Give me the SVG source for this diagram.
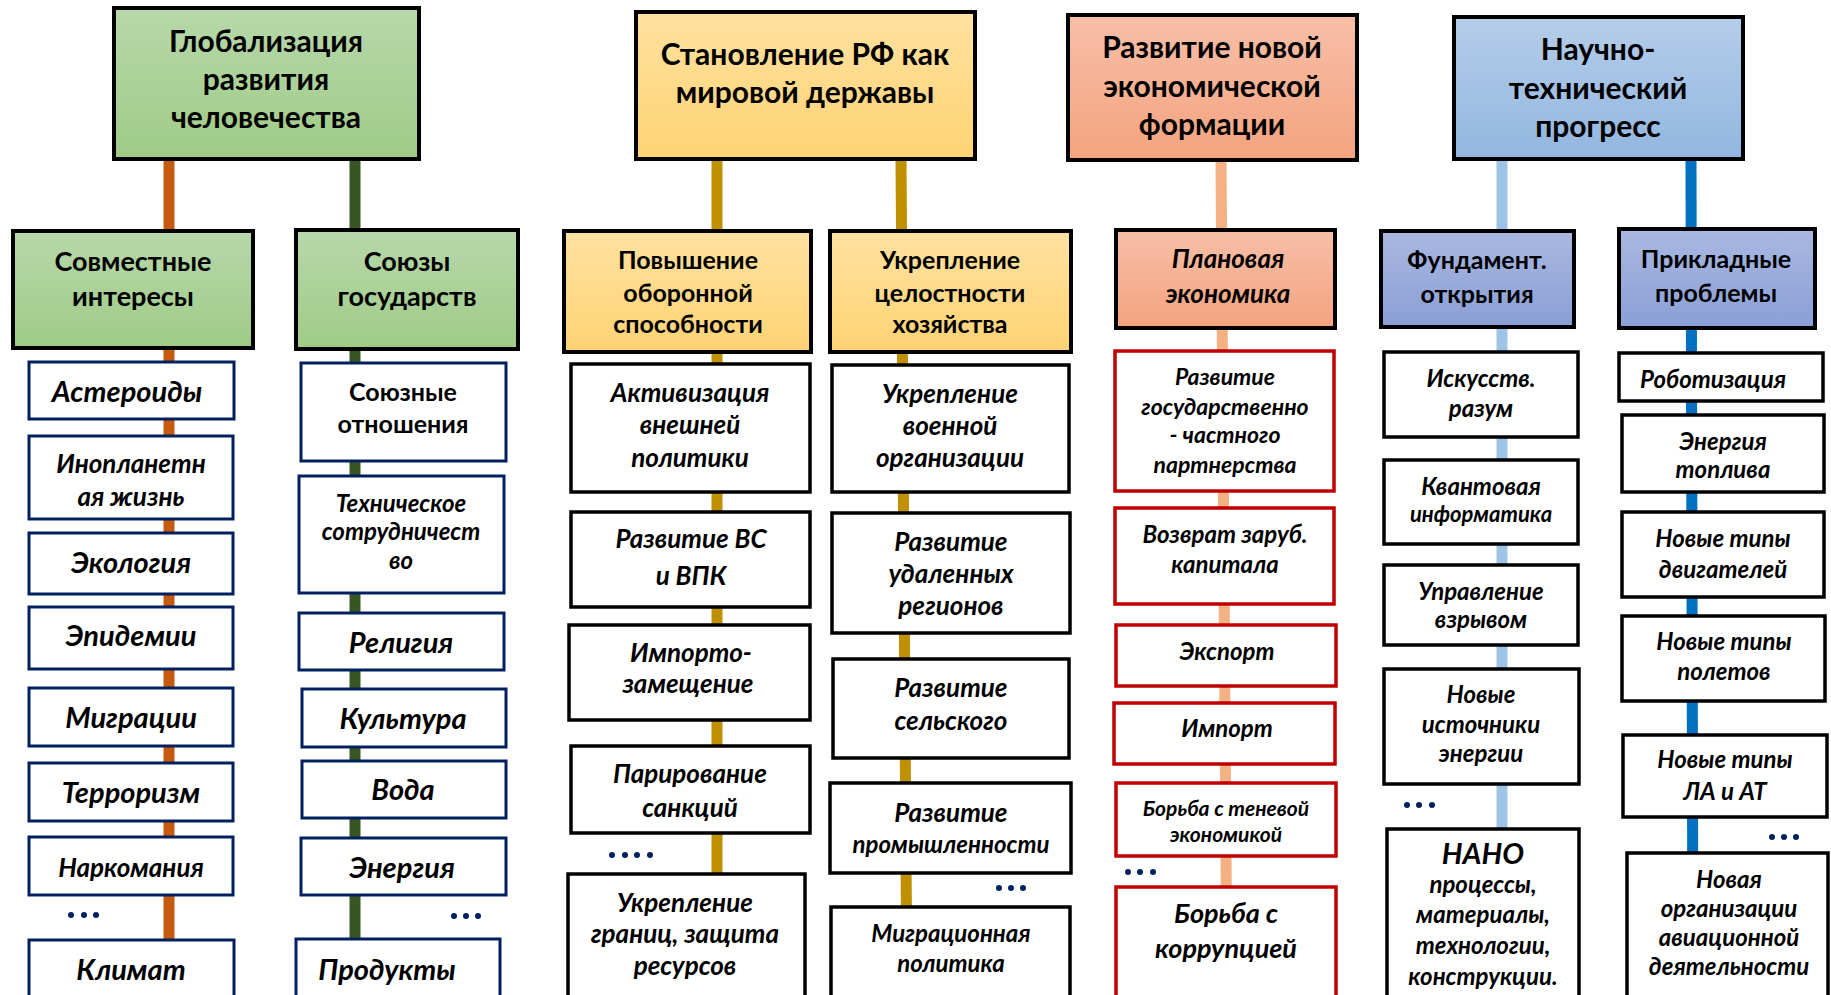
<svg xmlns="http://www.w3.org/2000/svg" width="1831" height="995" viewBox="0 0 1831 995">
<defs>
<linearGradient id="gGreen" x1="0" y1="0" x2="0" y2="1"><stop offset="0" stop-color="#B7D8AB"/><stop offset="1" stop-color="#9FCB86"/></linearGradient>
<linearGradient id="gYellow" x1="0" y1="0" x2="0" y2="1"><stop offset="0" stop-color="#FFE1A0"/><stop offset="1" stop-color="#FFD374"/></linearGradient>
<linearGradient id="gSalmon" x1="0" y1="0" x2="0" y2="1"><stop offset="0" stop-color="#F7BFA8"/><stop offset="1" stop-color="#F4A37E"/></linearGradient>
<linearGradient id="gBlue" x1="0" y1="0" x2="0" y2="1"><stop offset="0" stop-color="#B5CDE9"/><stop offset="1" stop-color="#92B6E0"/></linearGradient>
<linearGradient id="gPurple" x1="0" y1="0" x2="0" y2="1"><stop offset="0" stop-color="#AAB8E1"/><stop offset="1" stop-color="#8A9FD6"/></linearGradient>
</defs>
<style>
text{font-family:Lato,"Open Sans","Liberation Sans",sans-serif;font-weight:bold;text-anchor:middle;fill:#000}
.top{font-size:30px}
.hdL{font-size:27px}
.hd{font-size:25px}
.it{font-size:29px;font-style:italic}
.itm{font-size:26px;font-style:italic}
.its{font-size:24px;font-style:italic}
.bk{stroke:#000;stroke-width:4}
.nv{fill:#fff;stroke:#002060;stroke-width:3}
.wb{fill:#fff;stroke:#000;stroke-width:3.5}
.rd{fill:#fff;stroke:#C00000;stroke-width:3.5}
.dot{fill:#002060}
.cn{stroke-width:11;fill:none}
</style>
<rect width="1831" height="995" fill="#fff"/>
<g id="connectors">
<line class="cn" x1="169" y1="160" x2="169" y2="995" stroke="#C55A11"/>
<line class="cn" x1="355" y1="160" x2="355" y2="995" stroke="#375623"/>
<line class="cn" x1="717" y1="159" x2="717" y2="995" stroke="#BF9000"/>
<line class="cn" x1="901" y1="159" x2="907" y2="995" stroke="#BF9000"/>
<line class="cn" x1="1221" y1="160" x2="1227" y2="995" stroke="#F4B183"/>
<line class="cn" x1="1502" y1="159" x2="1502" y2="995" stroke="#9DC3E6"/>
<line class="cn" x1="1691" y1="159" x2="1693" y2="995" stroke="#0070C0"/>
</g>
<g id="dots">
<circle class="dot" cx="71" cy="915" r="3"/><circle class="dot" cx="84" cy="915" r="3"/><circle class="dot" cx="96" cy="915" r="3"/>
<circle class="dot" cx="454" cy="916" r="3"/><circle class="dot" cx="466" cy="916" r="3"/><circle class="dot" cx="478" cy="916" r="3"/>
<circle class="dot" cx="612" cy="855" r="3"/><circle class="dot" cx="625" cy="855" r="3"/><circle class="dot" cx="637" cy="855" r="3"/><circle class="dot" cx="650" cy="855" r="3"/>
<circle class="dot" cx="999" cy="888" r="3"/><circle class="dot" cx="1011" cy="888" r="3"/><circle class="dot" cx="1023" cy="888" r="3"/>
<circle class="dot" cx="1128" cy="872" r="3"/><circle class="dot" cx="1140" cy="872" r="3"/><circle class="dot" cx="1153" cy="872" r="3"/>
<circle class="dot" cx="1407" cy="805" r="3"/><circle class="dot" cx="1419" cy="805" r="3"/><circle class="dot" cx="1432" cy="805" r="3"/>
<circle class="dot" cx="1772" cy="837" r="3"/><circle class="dot" cx="1784" cy="837" r="3"/><circle class="dot" cx="1796" cy="837" r="3"/>
</g>
<!-- Column 1/2: Globalization -->
<g id="n-glob"><rect class="bk" x="114" y="8" width="305" height="151" fill="url(#gGreen)"/><text class="top" x="266" y="52">Глобализация</text><text class="top" x="266" y="90">развития</text><text class="top" x="266" y="128">человечества</text></g>
<g id="n-sovm"><rect class="bk" x="13" y="231" width="240" height="117" fill="url(#gGreen)"/><text class="hdL" x="133" y="271">Совместные</text><text class="hdL" x="133" y="306">интересы</text></g>
<g id="n-soyuz"><rect class="bk" x="296" y="230" width="222" height="119" fill="url(#gGreen)"/><text class="hdL" x="407" y="271">Союзы</text><text class="hdL" x="407" y="306">государств</text></g>
<g id="n-aster"><rect class="nv" x="29" y="362" width="205" height="57"/><text class="it" x="127" y="402">Астероиды</text></g>
<g id="n-inopl"><rect class="nv" x="29" y="436" width="204" height="83"/><text class="itm" x="131" y="473">Инопланетн</text><text class="itm" x="131" y="506">ая жизнь</text></g>
<g id="n-ekol"><rect class="nv" x="29" y="533" width="204" height="61"/><text class="it" x="131" y="573">Экология</text></g>
<g id="n-epid"><rect class="nv" x="29" y="607" width="204" height="62"/><text class="it" x="131" y="646">Эпидемии</text></g>
<g id="n-migr"><rect class="nv" x="29" y="688" width="204" height="58"/><text class="it" x="131" y="728">Миграции</text></g>
<g id="n-terr"><rect class="nv" x="29" y="763" width="204" height="58"/><text class="it" x="131" y="803">Терроризм</text></g>
<g id="n-nark"><rect class="nv" x="29" y="837" width="204" height="58"/><text class="itm" x="131" y="877">Наркомания</text></g>
<g id="n-klim"><rect class="nv" x="29" y="940" width="205" height="70"/><text class="it" x="131" y="980">Климат</text></g>
<g id="n-soyuzn"><rect class="nv" x="301" y="363" width="205" height="98"/><text class="hd" x="403" y="401">Союзные</text><text class="hd" x="403" y="433">отношения</text></g>
<g id="n-tech"><rect class="nv" x="299" y="476" width="205" height="117"/><text class="its" x="401" y="512">Техническое</text><text class="its" x="401" y="540">сотрудничест</text><text class="its" x="401" y="569">во</text></g>
<g id="n-relig"><rect class="nv" x="299" y="613" width="205" height="57"/><text class="it" x="401" y="653">Религия</text></g>
<g id="n-kult"><rect class="nv" x="302" y="689" width="204" height="58"/><text class="it" x="403" y="729">Культура</text></g>
<g id="n-voda"><rect class="nv" x="302" y="761" width="204" height="57"/><text class="it" x="403" y="800">Вода</text></g>
<g id="n-energ"><rect class="nv" x="301" y="838" width="205" height="57"/><text class="it" x="402" y="878">Энергия</text></g>
<g id="n-prod"><rect class="nv" x="296" y="939" width="204" height="70"/><text class="it" x="387" y="980">Продукты</text></g>
<!-- Column 3/4: RF -->
<g id="n-rf"><rect class="bk" x="636" y="12" width="339" height="147" fill="url(#gYellow)"/><text class="top" x="805" y="65">Становление РФ как</text><text class="top" x="805" y="103">мировой державы</text></g>
<g id="n-povysh"><rect class="bk" x="564" y="231" width="247" height="121" fill="url(#gYellow)"/><text class="hd" x="688" y="269">Повышение</text><text class="hd" x="688" y="302">оборонной</text><text class="hd" x="688" y="333">способности</text></g>
<g id="n-ukrep"><rect class="bk" x="830" y="231" width="241" height="121" fill="url(#gYellow)"/><text class="hd" x="950" y="269">Укрепление</text><text class="hd" x="950" y="302">целостности</text><text class="hd" x="950" y="333">хозяйства</text></g>
<g id="n-aktiv"><rect class="wb" x="571" y="364" width="239" height="128"/><text class="itm" x="690" y="402">Активизация</text><text class="itm" x="690" y="434">внешней</text><text class="itm" x="690" y="467">политики</text></g>
<g id="n-vs"><rect class="wb" x="571" y="512" width="239" height="95"/><text class="itm" x="691" y="548">Развитие ВС</text><text class="itm" x="691" y="585">и ВПК</text></g>
<g id="n-import"><rect class="wb" x="569" y="625" width="241" height="95"/><text class="itm" x="691" y="662">Импорто-</text><text class="itm" x="688" y="693">замещение</text></g>
<g id="n-parir"><rect class="wb" x="571" y="746" width="239" height="87"/><text class="itm" x="690" y="783">Парирование</text><text class="itm" x="690" y="817">санкций</text></g>
<g id="n-granic"><rect class="wb" x="568" y="874" width="237" height="135"/><text class="itm" x="685" y="912">Укрепление</text><text class="itm" x="685" y="943">границ, защита</text><text class="itm" x="685" y="975">ресурсов</text></g>
<g id="n-voen"><rect class="wb" x="832" y="365" width="237" height="127"/><text class="itm" x="950" y="403">Укрепление</text><text class="itm" x="950" y="435">военной</text><text class="itm" x="950" y="467">организации</text></g>
<g id="n-udal"><rect class="wb" x="832" y="513" width="238" height="120"/><text class="itm" x="951" y="551">Развитие</text><text class="itm" x="951" y="583">удаленных</text><text class="itm" x="951" y="615">регионов</text></g>
<g id="n-selsk"><rect class="wb" x="833" y="659" width="236" height="99"/><text class="itm" x="951" y="697">Развитие</text><text class="itm" x="951" y="730">сельского</text></g>
<g id="n-prom"><rect class="wb" x="830" y="783" width="241" height="90"/><text class="itm" x="951" y="822">Развитие</text><text class="its" x="951" y="853">промышленности</text></g>
<g id="n-migrpol"><rect class="wb" x="831" y="907" width="239" height="100"/><text class="its" x="951" y="942">Миграционная</text><text class="its" x="951" y="972">политика</text></g>
<!-- Column 5: economy -->
<g id="n-econ"><rect class="bk" x="1068" y="15" width="289" height="145" fill="url(#gSalmon)"/><text class="top" x="1212" y="58">Развитие новой</text><text class="top" x="1212" y="97">экономической</text><text class="top" x="1212" y="135">формации</text></g>
<g id="n-plan"><rect class="bk" x="1116" y="230" width="219" height="98" fill="url(#gSalmon)"/><text class="itm" x="1228" y="268">Плановая</text><text class="itm" x="1228" y="303">экономика</text></g>
<g id="n-gchp"><rect class="rd" x="1115" y="351" width="219" height="140"/><text class="its" style="font-size:23px" x="1225" y="385">Развитие</text><text class="its" style="font-size:23px" x="1225" y="415">государственно</text><text class="its" style="font-size:23px" x="1225" y="443">- частного</text><text class="its" style="font-size:23px" x="1225" y="473">партнерства</text></g>
<g id="n-vozvr"><rect class="rd" x="1115" y="508" width="219" height="96"/><text class="its" x="1225" y="543">Возврат заруб.</text><text class="its" x="1225" y="573">капитала</text></g>
<g id="n-eksp"><rect class="rd" x="1116" y="625" width="220" height="61"/><text class="its" x="1227" y="660">Экспорт</text></g>
<g id="n-imp"><rect class="rd" x="1114" y="703" width="221" height="61"/><text class="its" x="1227" y="737">Импорт</text></g>
<g id="n-ten"><rect class="rd" x="1116" y="783" width="220" height="73"/><text class="its" style="font-size:21px" x="1226" y="816">Борьба с теневой</text><text class="its" style="font-size:21px" x="1226" y="842">экономикой</text></g>
<g id="n-korr"><rect class="rd" x="1116" y="887" width="220" height="120"/><text class="it" style="font-size:27px" x="1226" y="923">Борьба с</text><text class="it" style="font-size:27px" x="1226" y="958">коррупцией</text></g>
<!-- Column 6/7: science -->
<g id="n-ntp"><rect class="bk" x="1454" y="17" width="289" height="142" fill="url(#gBlue)"/><text class="top" x="1598" y="60">Научно-</text><text class="top" x="1598" y="99">технический</text><text class="top" x="1598" y="137">прогресс</text></g>
<g id="n-fund"><rect class="bk" x="1381" y="231" width="193" height="96" fill="url(#gPurple)"/><text class="hd" x="1477" y="269">Фундамент.</text><text class="hd" x="1477" y="303">открытия</text></g>
<g id="n-prikl"><rect class="bk" x="1619" y="229" width="196" height="99" fill="url(#gPurple)"/><text class="hd" x="1716" y="268">Прикладные</text><text class="hd" x="1716" y="302">проблемы</text></g>
<g id="n-ii"><rect class="wb" x="1384" y="352" width="194" height="85"/><text class="its" x="1481" y="387">Искусств.</text><text class="its" x="1481" y="417">разум</text></g>
<g id="n-kvant"><rect class="wb" x="1384" y="460" width="194" height="84"/><text class="its" x="1481" y="495">Квантовая</text><text class="its" style="font-size:22px" x="1481" y="522">информатика</text></g>
<g id="n-vzryv"><rect class="wb" x="1384" y="565" width="194" height="80"/><text class="its" x="1481" y="600">Управление</text><text class="its" x="1481" y="628">взрывом</text></g>
<g id="n-istoch"><rect class="wb" x="1384" y="669" width="195" height="115"/><text class="its" x="1481" y="703">Новые</text><text class="its" x="1481" y="733">источники</text><text class="its" x="1481" y="762">энергии</text></g>
<g id="n-nano"><rect class="wb" x="1387" y="829" width="192" height="180"/><text class="it" x="1483" y="864">НАНО</text><text class="its" x="1483" y="893">процессы,</text><text class="its" x="1483" y="923">материалы,</text><text class="its" x="1483" y="954">технологии,</text><text class="its" x="1483" y="985">конструкции.</text></g>
<g id="n-robot"><rect class="wb" x="1619" y="353" width="204" height="48"/><text class="its" x="1713" y="388">Роботизация</text></g>
<g id="n-topl"><rect class="wb" x="1622" y="415" width="202" height="77"/><text class="its" x="1723" y="450">Энергия</text><text class="its" x="1723" y="478">топлива</text></g>
<g id="n-dvig"><rect class="wb" x="1622" y="512" width="202" height="85"/><text class="its" x="1723" y="547">Новые типы</text><text class="its" x="1723" y="578">двигателей</text></g>
<g id="n-polet"><rect class="wb" x="1622" y="616" width="203" height="85"/><text class="its" x="1724" y="650">Новые типы</text><text class="its" x="1724" y="680">полетов</text></g>
<g id="n-la"><rect class="wb" x="1623" y="735" width="204" height="82"/><text class="its" x="1725" y="768">Новые типы</text><text class="its" x="1725" y="800">ЛА и АТ</text></g>
<g id="n-aviac"><rect class="wb" x="1627" y="853" width="201" height="156"/><text class="its" x="1729" y="888">Новая</text><text class="its" x="1729" y="917">организации</text><text class="its" x="1729" y="946">авиационной</text><text class="its" x="1729" y="975">деятельности</text></g>
</svg>
